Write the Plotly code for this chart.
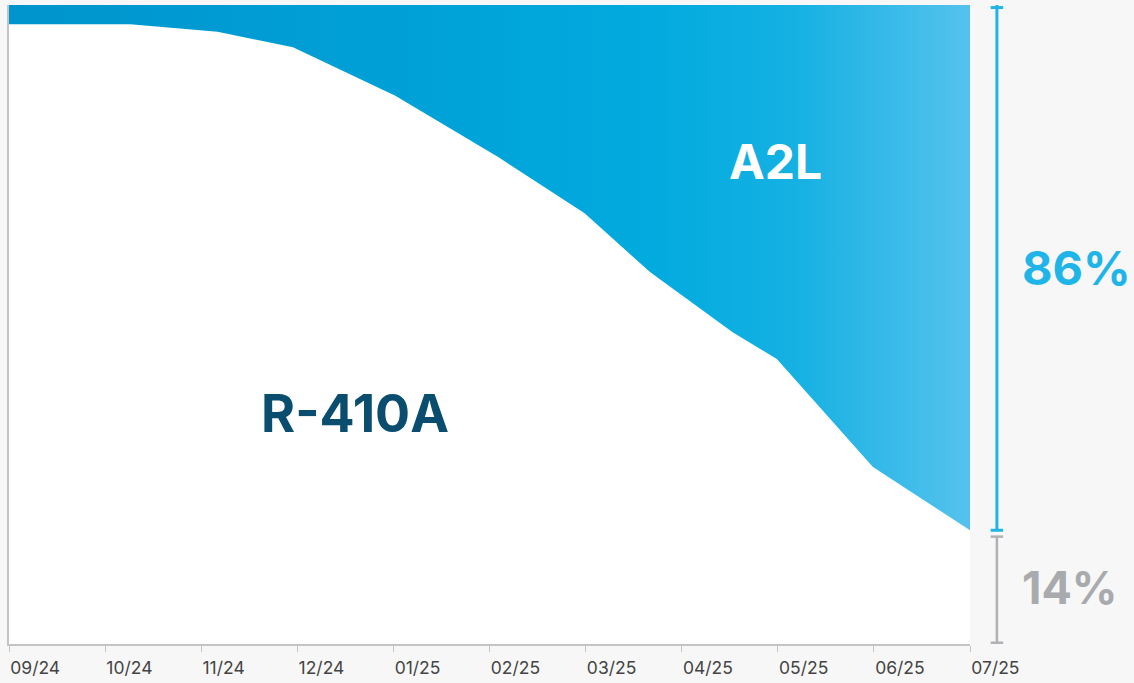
import plotly.graph_objects as go

# ---- data ----
month_labels = ["09/24", "10/24", "11/24", "12/24", "01/25", "02/25",
                "03/25", "04/25", "05/25", "06/25", "07/25"]
month_index = list(range(len(month_labels)))

# position in months from 09/24, share of R-410A (%)
x_months = [0.0, 1.26, 2.17, 2.955, 4.02, 5.09, 5.99, 6.67, 7.53, 7.99, 8.99, 10.0]
r410a_share = [97.0, 97.0, 95.8, 93.4, 85.8, 76.2, 67.4, 58.2, 48.8, 44.6, 27.7, 17.8]
total_share = [100.0] * len(x_months)

a2l_label = "86%"
r410a_label = "14%"

BLUE = "#1fb5e8"
GRAY = "#b0b1b5"
TEAL = "#0a4d6e"

fig = go.Figure()

# R-410A area (white)
fig.add_trace(go.Scatter(
    x=x_months, y=r410a_share, mode="lines", fill="tozeroy",
    fillcolor="white", line=dict(width=0, color="white"),
    hoverinfo="skip", showlegend=False))

# A2L area (gradient) on top up to 100%
fig.add_trace(go.Scatter(
    x=x_months, y=total_share, mode="lines", fill="tonexty",
    line=dict(width=0, color="#00a4da"),
    fillgradient=dict(type="horizontal", colorscale=[
        [0.0, "#0094cd"], [0.45, "#00a2d8"], [0.68, "#02abdf"],
        [0.82, "#16b1e3"], [1.0, "#55c2ed"]]),
    hoverinfo="skip", showlegend=False))

fig.add_annotation(x=3.6, y=36, xref="x", yref="y", text="<b>R-410A</b>",
                   showarrow=False, font=dict(family="Inter", size=52, color=TEAL))
fig.add_annotation(x=7.98, y=75.5, xref="x", yref="y", text="<b>A2L</b>",
                   showarrow=False, font=dict(family="Inter", size=48, color="white"))

# brackets
bx = 1.028
cap = 0.0065
last = r410a_share[-1]
shapes = [
    dict(type="line", xref="paper", yref="y", x0=bx, x1=bx, y0=100, y1=last,
         line=dict(color=BLUE, width=3)),
    dict(type="line", xref="paper", yref="y", x0=bx - cap, x1=bx + cap, y0=99.6, y1=99.6,
         line=dict(color=BLUE, width=3)),
    dict(type="line", xref="paper", yref="y", x0=bx - cap, x1=bx + cap, y0=last, y1=last,
         line=dict(color=BLUE, width=3)),
    dict(type="line", xref="paper", yref="y", x0=bx, x1=bx, y0=last - 1, y1=0.2,
         line=dict(color=GRAY, width=2.5)),
    dict(type="line", xref="paper", yref="y", x0=bx - cap, x1=bx + cap, y0=last - 1, y1=last - 1,
         line=dict(color=GRAY, width=2.5)),
    dict(type="line", xref="paper", yref="y", x0=bx - cap, x1=bx + cap, y0=0.2, y1=0.2,
         line=dict(color=GRAY, width=2.5)),
]
fig.update_layout(shapes=shapes)

fig.add_annotation(x=1.052, y=(100 + last) / 2, xref="paper", yref="y", xanchor="left",
                   text="<b>" + a2l_label + "</b>", showarrow=False,
                   font=dict(family="Inter", size=47, color=BLUE))
fig.add_annotation(x=1.052, y=last / 2, xref="paper", yref="y", xanchor="left",
                   text="<b>" + r410a_label + "</b>", showarrow=False,
                   font=dict(family="Inter", size=45, color="#a9aaae"))

fig.update_xaxes(range=[0, 10], tickvals=month_index, ticktext=month_labels,
                 showgrid=False, zeroline=False, showline=True, linecolor="#c4c4c4",
                 linewidth=1.5, ticks="outside", ticklen=6, tickcolor="#c4c4c4",
                 ticklabelposition="outside right", ticklabelstandoff=7,
                 automargin=False,
                 tickfont=dict(family="Inter", size=17.5, color="#444444"))
fig.update_yaxes(range=[0, 100], showgrid=False, zeroline=False, showline=True,
                 linecolor="#c4c4c4", linewidth=2, showticklabels=False, ticks="",
                 automargin=False)

fig.update_layout(width=1134, height=683, margin=dict(l=9, r=164, t=5, b=39),
                  paper_bgcolor="#f7f7f7", plot_bgcolor="white")

fig.write_html("out.html")
